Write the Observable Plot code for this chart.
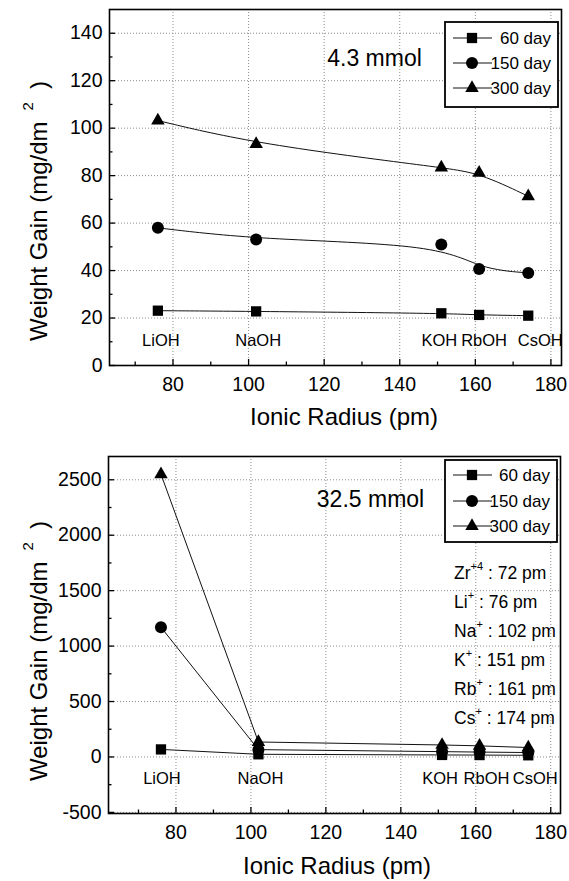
<!DOCTYPE html>
<html><head><meta charset="utf-8">
<script src="https://cdn.jsdelivr.net/npm/d3@7"></script>
<script src="https://cdn.jsdelivr.net/npm/@observablehq/plot@0.6"></script>
<style>body{margin:0;background:#fff} #chart{width:569px} svg{display:block}</style>
</head><body><div id="chart"></div>
<script>
// ---- data ----
const radius = [76, 102, 151, 161, 174];
const compounds = ["LiOH", "NaOH", "KOH", "RbOH", "CsOH"];
const seriesNames = ["60 day", "150 day", "300 day"];
const top60 = [23.1, 22.8, 22.0, 21.3, 21.0];
const top150 = [58.0, 53.1, 51.0, 40.7, 39.0];
const top300 = [103.2, 93.3, 83.4, 81.2, 71.3];
const bot60 = [68, 24, 18, 17, 15];
const bot150 = [1170, 66, 48, 44, 40];
const bot300 = [2550, 135, 108, 100, 85];
const xMajorTicks = [80, 100, 120, 140, 160, 180];
const xMinorTicks = [70, 90, 110, 130, 150, 170];
const topYTicks = [0, 20, 40, 60, 80, 100, 120, 140];
const topYMinor = [10, 30, 50, 70, 90, 110, 130];
const botYTicks = [-500, 0, 500, 1000, 1500, 2000, 2500];
const botYMinor = [-250, 250, 750, 1250, 1750, 2250];
const ions = ["Zr", "Li", "Na", "K", "Rb", "Cs"];
const ionCharges = ["+4", "+", "+", "+", "+", "+"];
const ionRadii = [72, 76, 102, 151, 161, 174];
const notes = ["4.3 mmol", "32.5 mmol"];

const W = 569;
const FONT = "'Liberation Sans', Arial, Helvetica, sans-serif";
const symbols = ["square", "circle", "triangle"];
const symR = [5.8, 6.0, 5.0];

function panel(cfg) {
  const {height, mt, mb, ml, mr, xDomain, yDomain, yTicks, yMinor, series, curve,
         labelY, labelShift, note, notePos, legendBox, legendRows, xLabelPos, yLabelPos} = cfg;
  const pxX = (W - ml - mr) / (xDomain[1] - xDomain[0]);
  const pxY = (height - mt - mb) / (yDomain[1] - yDomain[0]);
  const yb = yDomain[0], xl = xDomain[0];
  const rows = s => radius.map((r, i) => ({r, v: s[i], c: compounds[i]}));
  const grid = {stroke: "#8c8c8c", strokeDasharray: "1,2", strokeWidth: 1};
  const marks = [
    Plot.ruleX(xMajorTicks, {x: d => d, ...grid}),
    Plot.ruleY(yTicks.filter(t => t > yb + 1e-9), {y: d => d, ...grid}),
    Plot.ruleX(xMajorTicks, {x: d => d, y1: () => yb, y2: () => yb + 6 / pxY, stroke: "black", strokeWidth: 1.3}),
    Plot.ruleX(xMinorTicks, {x: d => d, y1: () => yb, y2: () => yb + 3.5 / pxY, stroke: "black", strokeWidth: 1.3}),
    Plot.ruleY(yTicks, {y: d => d, x1: () => xl, x2: () => xl + 6 / pxX, stroke: "black", strokeWidth: 1.3}),
    Plot.ruleY(yMinor, {y: d => d, x1: () => xl, x2: () => xl + 3.5 / pxX, stroke: "black", strokeWidth: 1.3}),
    Plot.frame({stroke: "black", strokeWidth: 1.6})
  ];
  series.forEach((s, k) => {
    marks.push(Plot.line(rows(s), {x: "r", y: "v", curve, stroke: "#111", strokeWidth: 1}));
  });
  series.forEach((s, k) => {
    marks.push(Plot.dot(rows(s), {x: "r", y: "v", symbol: symbols[k], r: symR[k], fill: "black", stroke: "none"}));
  });
  compounds.forEach((c, i) => {
    marks.push(Plot.text([c], {x: () => radius[i], y: () => labelY, text: d => d, dx: labelShift[i],
      fontSize: 16.5, fill: "black", lineAnchor: "middle"}));
  });
  marks.push(Plot.text([note], {frameAnchor: "top-left", dx: notePos[0] - ml, dy: notePos[1] - mt,
    text: d => d, fontSize: 23, textAnchor: "middle", lineAnchor: "middle", fill: "black"}));

  const svg = Plot.plot({
    width: W, height, marginTop: mt, marginBottom: mb, marginLeft: ml, marginRight: mr,
    x: {domain: xDomain, ticks: xMajorTicks, tickSize: 0, tickPadding: 12, tickFormat: d => String(d), label: null},
    y: {domain: yDomain, ticks: yTicks, tickSize: 0, tickPadding: 7, tickFormat: d => String(d), label: null},
    style: {fontFamily: FONT, fontSize: "19.5px", color: "black", background: "white", overflow: "visible"},
    marks
  });
  const g = d3.select(svg);
  // axis titles
  const yl = g.append("text")
    .attr("transform", `translate(${yLabelPos[0]},${yLabelPos[1]}) rotate(-90)`)
    .attr("text-anchor", "middle").attr("dominant-baseline", "central")
    .attr("font-family", FONT).attr("font-size", 24).attr("fill", "black");
  yl.append("tspan").text("Weight Gain (mg/dm ");
  yl.append("tspan").attr("font-size", 15).attr("dy", -11).text(" 2");
  yl.append("tspan").attr("dy", 11).text("  )");
  g.append("text").attr("x", xLabelPos[0]).attr("y", xLabelPos[1])
    .attr("text-anchor", "middle").attr("dominant-baseline", "central")
    .attr("font-family", FONT).attr("font-size", 24).attr("fill", "black")
    .text("Ionic Radius (pm)");
  // legend
  const [lx0, ly0, lx1, ly1] = legendBox;
  g.append("rect").attr("x", lx0).attr("y", ly0).attr("width", lx1 - lx0).attr("height", ly1 - ly0)
    .attr("fill", "white").attr("stroke", "black").attr("stroke-width", 1.8);
  seriesNames.forEach((name, k) => {
    const y = legendRows[k];
    g.append("line").attr("x1", lx0 + 8).attr("x2", lx0 + 47).attr("y1", y).attr("y2", y)
      .attr("stroke", "#111").attr("stroke-width", 1);
    const size = Math.PI * symR[k] * symR[k];
    const sym = [d3.symbolSquare, d3.symbolCircle, d3.symbolTriangle][k];
    g.append("path").attr("d", d3.symbol(sym, size)()).attr("transform", `translate(${lx0 + 27},${y})`)
      .attr("fill", "black");
    g.append("text").attr("x", lx1 - 7).attr("y", y).attr("text-anchor", "end")
      .attr("dominant-baseline", "central").attr("font-family", FONT).attr("font-size", 17)
      .attr("fill", "black").text(name);
  });
  return svg;
}

const topSvg = panel({
  height: 440, mt: 9, mb: 75, ml: 109, mr: 8,
  xDomain: [63.2, 182.8], yDomain: [0, 150], yTicks: topYTicks, yMinor: topYMinor,
  series: [top60, top150, top300], curve: "basis",
  labelY: 10.5, labelShift: [3, 2, -2, 5, 12],
  note: notes[0], notePos: [374, 58],
  legendBox: [445, 22, 558, 107], legendRows: [38, 63, 88],
  xLabelPos: [344, 416], yLabelPos: [38, 211]
});

const botSvg = panel({
  height: 441, mt: 16, mb: 68, ml: 108, mr: 9,
  xDomain: [62, 182.6], yDomain: [-510, 2710], yTicks: botYTicks, yMinor: botYMinor,
  series: [bot60, bot150, bot300], curve: "linear",
  labelY: -192, labelShift: [1, 2, -2, 7, 7],
  note: notes[1], notePos: [370, 59],
  legendBox: [445, 20, 557, 102], legendRows: [35, 61, 86],
  xLabelPos: [337, 425], yLabelPos: [38, 211]
});
// ion radius list
const gb = d3.select(botSvg);
ions.forEach((ion, i) => {
  const t = gb.append("text").attr("x", 454).attr("y", 133 + i * 29)
    .attr("text-anchor", "start")
    .attr("dominant-baseline", "central").attr("font-family", FONT).attr("font-size", 17.5).attr("fill", "black");
  t.append("tspan").text(ion);
  t.append("tspan").attr("font-size", 11).attr("dy", -7).text(ionCharges[i]);
  t.append("tspan").attr("dy", 7).text(" : " + ionRadii[i] + " pm");
});

const chart = document.getElementById("chart");
chart.appendChild(topSvg);
chart.appendChild(botSvg);
</script>
</body></html>
